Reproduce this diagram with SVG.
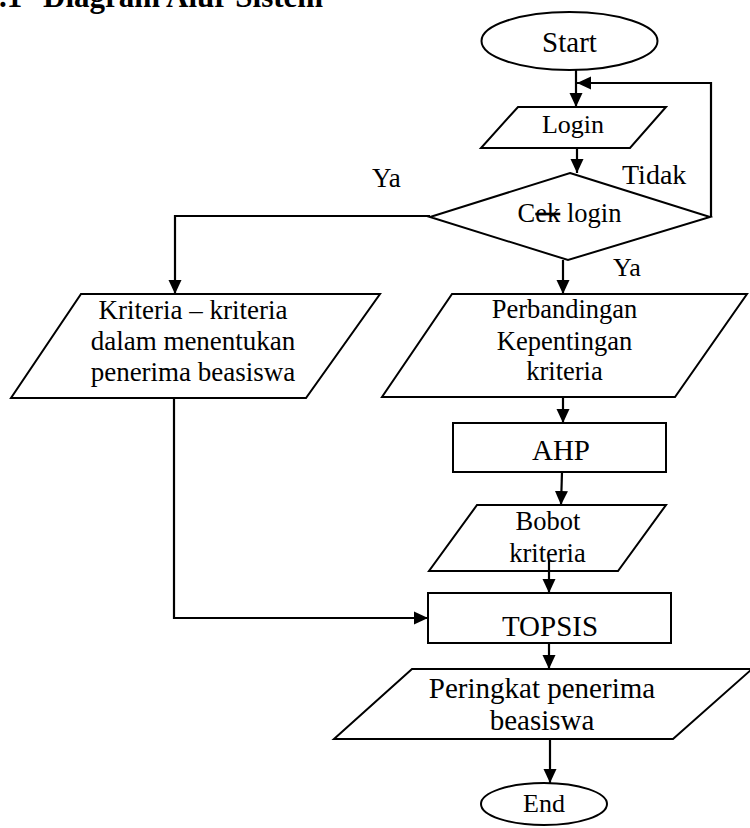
<svg xmlns="http://www.w3.org/2000/svg" width="750" height="828" viewBox="0 0 750 828">
<defs>
<style>
.s{fill:#fff;stroke:#000;stroke-width:2}
.t{font-family:"Liberation Serif","Times New Roman",serif;fill:#000;text-anchor:middle}
.l{font-family:"Liberation Serif","Times New Roman",serif;fill:#000}
.c{fill:none;stroke:#000;stroke-width:2.2;marker-end:url(#arr)}
</style>
<marker id="arr" viewBox="0 0 14 14" refX="14" refY="7" markerWidth="14" markerHeight="14" markerUnits="userSpaceOnUse" orient="auto"><path d="M0,0.5 L14,7 L0,13.5 z" fill="#000"/></marker>
</defs>
<rect width="750" height="828" fill="#fff"/>
<text class="l" x="-1" y="7" font-size="31" font-weight="bold">.1 <tspan x="43">Diagram Alur Sistem</tspan></text>

<g id="start"><ellipse class="s" cx="569.5" cy="41" rx="88" ry="29"/><text class="t" x="569.5" y="52" font-size="29">Start</text></g>
<g id="login"><polygon class="s" points="518,107 666,107 630,148 481,148"/><text class="t" x="573" y="133" font-size="26">Login</text></g>
<g id="ceklogin"><polygon class="s" points="570,173 710,217 568,260 430,217"/><text class="t" x="569.5" y="222" font-size="26.5">C<tspan style="text-decoration:line-through">ek</tspan> login</text></g>
<g id="kriteria"><polygon class="s" points="81,294 380,294 306,398 11,398"/><text class="t" x="193" y="319" font-size="27">Kriteria – kriteria</text><text class="t" x="193" y="350" font-size="27">dalam menentukan</text><text class="t" x="193" y="381" font-size="27">penerima beasiswa</text></g>
<g id="perbandingan"><polygon class="s" points="452,294 747,294 675,397 382,397"/><text class="t" x="564.5" y="318" font-size="26.5">Perbandingan</text><text class="t" x="564.5" y="350" font-size="26.5">Kepentingan</text><text class="t" x="564.5" y="380" font-size="26.5">kriteria</text></g>
<g id="ahp"><rect class="s" x="453" y="423" width="213" height="49"/><text class="t" x="561" y="460" font-size="29">AHP</text></g>
<g id="bobot"><polygon class="s" points="477,505 666,505 618,571 429,571"/><text class="t" x="548" y="530" font-size="26.5">Bobot</text><text class="t" x="547.5" y="562" font-size="26.5">kriteria</text></g>
<g id="topsis"><rect class="s" x="428" y="593" width="243" height="50"/><text class="t" x="550" y="636" font-size="29">TOPSIS</text></g>
<g id="peringkat"><polygon class="s" points="412,669 752,669 673,739 334,739"/><text class="t" x="542" y="698" font-size="29">Peringkat penerima</text><text class="t" x="542" y="730" font-size="29">beasiswa</text></g>
<g id="end"><ellipse class="s" cx="544" cy="804" rx="63" ry="21"/><text class="t" x="544" y="812" font-size="26">End</text></g>

<g id="connectors">
<path class="c" d="M576,70 V107"/>
<path class="c" d="M577,148 V173"/>
<path class="c" d="M711,217 V83 H577"/>
<path class="c" d="M563,260 V294"/>
<path class="c" d="M430,216 H175 V294"/>
<path class="c" d="M563,397 V423"/>
<path class="c" d="M562,472 L561,505"/>
<path class="c" d="M549,560 V593"/>
<path class="c" d="M174,398 V618 H428"/>
<path class="c" d="M549,643 V669"/>
<path class="c" d="M550,739 V783"/>
</g>
<g id="labels">
<text class="l" x="622" y="184" font-size="28">Tidak</text>
<text class="l" x="613" y="276" font-size="26">Ya</text>
<text class="l" x="372" y="187" font-size="27">Ya</text>
</g>
</svg>
